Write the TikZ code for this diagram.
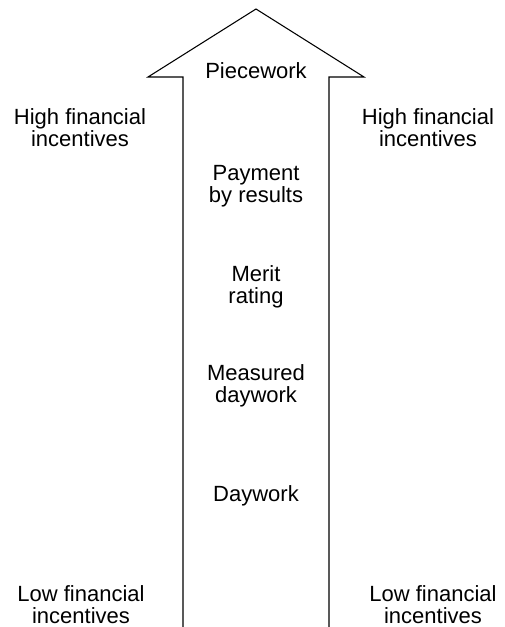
\documentclass[tikz,border=0pt]{standalone}
\usepackage{fontspec}
\setmainfont{Liberation Sans}
\begin{document}
\begin{tikzpicture}[x=0.75pt,y=-0.75pt,
  lbl/.style={font=\fontsize{16.5}{16.5}\selectfont, align=center, inner sep=0pt, anchor=center},
  arrowshape/.style={draw=black, line width=0.8pt, line join=miter}]
\useasboundingbox (0,0) rectangle (505,627);
\draw[arrowshape] (183,628) -- (183,77) -- (148,77) -- (256,9) -- (364,77) -- (329,77) -- (329,628);
\node[lbl] (piece) at (256,71) {Piecework};
\node[lbl] (pbr) at (256,186) {Payment\\by results};
\node[lbl] (merit) at (256,287) {Merit\\rating};
\node[lbl] (mdw) at (256,386) {Measured\\daywork};
\node[lbl] (day) at (256,496) {Daywork};
\node[lbl] (hl) at (80,128) {High financial\\incentives};
\node[lbl] (hr) at (428,128) {High financial\\incentives};
\node[lbl] (ll) at (81,605) {Low financial\\incentives};
\node[lbl] (lr) at (433,605) {Low financial\\incentives};
\end{tikzpicture}
\end{document}
